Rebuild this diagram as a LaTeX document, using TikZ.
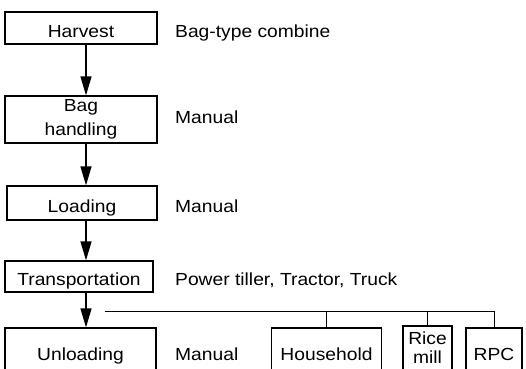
\documentclass[tikz,border=0pt]{standalone}
\usepackage{fontspec}
\setmainfont[FakeStretch=1.1]{Liberation Sans}
\usetikzlibrary{arrows.meta, positioning}

\begin{document}
\begin{tikzpicture}[x=1pt, y=-1pt, > = {Triangle[width=11pt, length=19pt]},
	font=\fontsize{17.5}{20}\selectfont,
	caja/.style={draw, line width=1.3pt, inner sep=0pt},
	una/.style={text height=18pt, text depth=0pt},
	etiq/.style={anchor=west, inner sep=0pt, text height=18pt, text depth=0pt}]
	\useasboundingbox (0,0) rectangle (526,368);
	\clip (0,0) rectangle (526,368);
	% eje de flechas, columna de etiquetas, barra
	\coordinate (eje) at (86,0);
	\coordinate (col) at (175,0);
	\coordinate (barra) at (105,311);
	% cajas
	\node [caja, una, minimum width=152pt, minimum height=32pt] (harvest) at (81,28) {Harvest};
	\node [caja, align=center, minimum width=152pt, minimum height=47pt,
		font=\fontsize{17.5}{24}\selectfont] (bag) at (81,119.5) {Bag\\handling};
	\node [caja, una, minimum width=150pt, minimum height=34pt] (loading) at (82,203) {Loading};
	\node [caja, una, minimum width=148pt, minimum height=31pt] (transport) at (79,276.5) {Transportation};
	\node [caja, una, minimum width=151pt, minimum height=46pt] (unload) at (80.5,351) {Unloading};
	\node [caja, una, minimum width=110pt, minimum height=46pt] (household) at (326.5,351) {Household};
	\node [caja, align=center, minimum width=49pt, minimum height=44pt,
		font=\fontsize{17.5}{19}\selectfont] (ricemill) at (427.5,348) {Rice\\mill};
	\node [caja, una, minimum width=56pt, minimum height=46pt] (rpc) at (494,351) {RPC};
	% etiquetas
	\node [etiq] (combine) at (harvest -| col) {Bag-type combine};
	\node [etiq] (manual1) at ([yshift=5.5pt]bag.center -| col) {Manual};
	\node [etiq] (manual2) at (loading -| col) {Manual};
	\node [etiq] (tiller) at (transport -| col) {Power tiller, Tractor, Truck};
	\node [etiq] (manual3) at (unload -| col) {Manual};
	% flechas
	\draw [->, line width=1.3pt] (harvest.south -| eje) -- (bag.north -| eje);
	\draw [->, line width=1.3pt] (bag.south -| eje) -- (loading.north -| eje);
	\draw [->, line width=1.3pt] (loading.south -| eje) -- (transport.north -| eje);
	\draw [->, line width=1.3pt] (transport.south -| eje) -- (unload.north -| eje);
	% destinos
	\draw [line width=1pt] (barra) -- (rpc.north |- barra)
		(household.north |- barra) -- (household.north)
		(ricemill.north |- barra) -- (ricemill.north)
		(rpc.north |- barra) -- (rpc.north);
\end{tikzpicture}
\end{document}
